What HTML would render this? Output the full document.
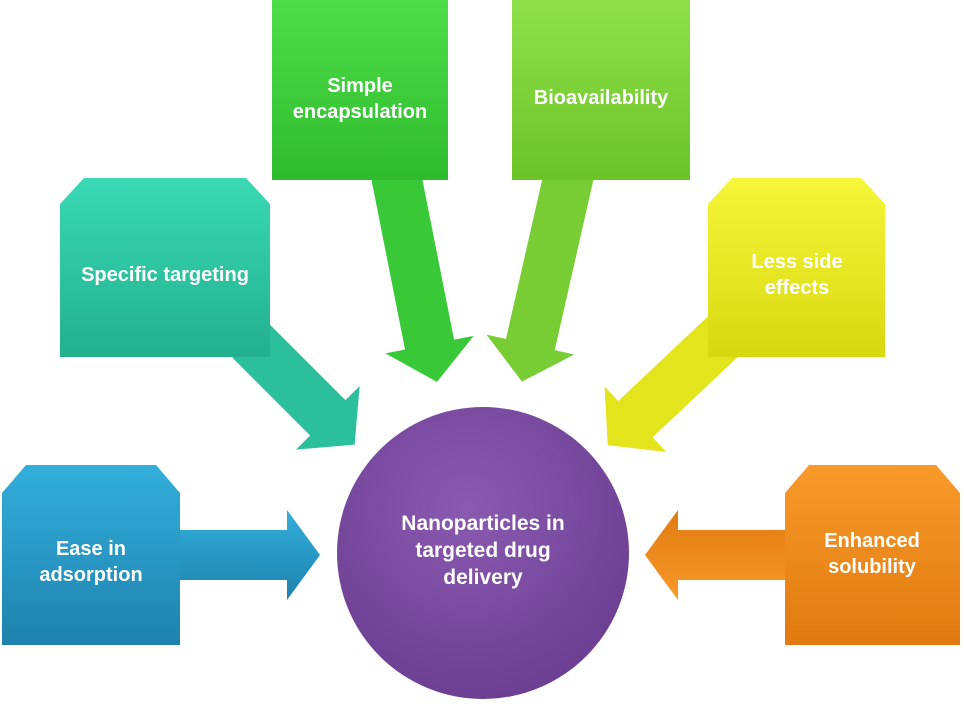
<!DOCTYPE html>
<html><head><style>
html,body{margin:0;padding:0;background:#fff;}
svg{display:block;}
text{font-family:"Liberation Sans",Arial,sans-serif;font-weight:bold;fill:#fff;text-anchor:middle;}
</style></head><body>
<svg width="964" height="716" viewBox="0 0 964 716" xmlns="http://www.w3.org/2000/svg">
<defs>
<linearGradient id="gb" x1="0" y1="0" x2="0" y2="1"><stop offset="0" stop-color="#33aedb"/><stop offset="1" stop-color="#1e82ad"/></linearGradient>
<linearGradient id="gt" x1="0" y1="0" x2="0" y2="1"><stop offset="0" stop-color="#3ad9b4"/><stop offset="1" stop-color="#22b08e"/></linearGradient>
<linearGradient id="gg" x1="0" y1="0" x2="0" y2="1"><stop offset="0" stop-color="#4ede4a"/><stop offset="1" stop-color="#2fbb2e"/></linearGradient>
<linearGradient id="gl" x1="0" y1="0" x2="0" y2="1"><stop offset="0" stop-color="#8fe04a"/><stop offset="1" stop-color="#6cc428"/></linearGradient>
<linearGradient id="gy" x1="0" y1="0" x2="0" y2="1"><stop offset="0" stop-color="#f6f63a"/><stop offset="1" stop-color="#d8d810"/></linearGradient>
<linearGradient id="go" x1="0" y1="0" x2="0" y2="1"><stop offset="0" stop-color="#f89a2a"/><stop offset="1" stop-color="#e07a10"/></linearGradient>
<radialGradient id="gp" cx="0.45" cy="0.35" r="0.7"><stop offset="0" stop-color="#8a5ab0"/><stop offset="1" stop-color="#6a3d90"/></radialGradient>
</defs>
<!-- arrows -->
<g transform="translate(180,555)"><polygon points="0,-25 107,-25 107,-45 140,0 107,45 107,25 0,25" fill="url(#gb)"/></g>
<g transform="translate(785,555) rotate(180)"><polygon points="0,-25 107,-25 107,-45 140,0 107,45 107,25 0,25" fill="url(#go)"/></g>
<g transform="translate(250,340) rotate(45)"><polygon points="0,-25 110,-25 110,-45 148,0 110,45 110,25 0,25" fill="#2cbf9c"/></g>
<g transform="translate(395,170) rotate(78.8)"><polygon points="0,-25 178,-25 178,-45 216,0 178,45 178,25 0,25" fill="#38c838"/></g>
<g transform="translate(570,170) rotate(102.8)"><polygon points="0,-25 179,-25 179,-45 217,0 179,45 179,25 0,25" fill="#78cc34"/></g>
<g transform="translate(730,330) rotate(136.7)"><polygon points="0,-25 130,-25 130,-45 168,0 130,45 130,25 0,25" fill="#e4e41c"/></g>
<!-- boxes -->
<polygon points="2,493 26,465 156,465 180,493 180,645 2,645" fill="url(#gb)"/>
<polygon points="60,204 84,178 246,178 270,204 270,357 60,357" fill="url(#gt)"/>
<polygon points="272,0 448,0 448,180 272,180" fill="url(#gg)"/>
<polygon points="512,0 690,0 690,180 512,180" fill="url(#gl)"/>
<polygon points="708,204 732,178 861,178 885,204 885,357 708,357" fill="url(#gy)"/>
<polygon points="785,493 809,465 936,465 960,493 960,645 785,645" fill="url(#go)"/>
<circle cx="483" cy="553" r="146" fill="url(#gp)"/>
<g font-size="20">
<text x="91" y="555">Ease in</text><text x="91" y="581">adsorption</text>
<text x="165" y="281">Specific targeting</text>
<text x="360" y="92">Simple</text><text x="360" y="118">encapsulation</text>
<text x="601" y="104">Bioavailability</text>
<text x="797" y="268">Less side</text><text x="797" y="294">effects</text>
<text x="872" y="547">Enhanced</text><text x="872" y="573">solubility</text>
</g>
<g font-size="21">
<text x="483" y="530">Nanoparticles in</text><text x="483" y="557">targeted drug</text><text x="483" y="584">delivery</text>
</g>
</svg>
</body></html>
